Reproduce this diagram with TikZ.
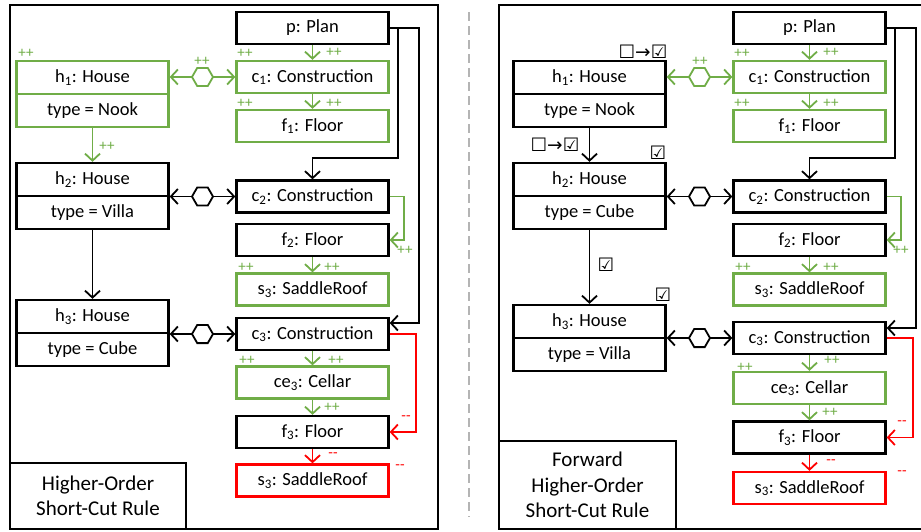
\documentclass[tikz,border=0pt]{standalone}
\usepackage{fontspec}
\setmainfont{Carlito}
\newfontfamily\chkfont{DejaVu Sans}
\usetikzlibrary{arrows.meta,shapes.geometric}
\definecolor{grn}{HTML}{70AD47}
\definecolor{rd}{HTML}{FF0000}
\definecolor{divgray}{HTML}{B4B4B4}
\newcommand\mainsz{\fontsize{18.5}{22}\selectfont}
\newcommand\labsz{\fontsize{21}{25.5}\selectfont}
\newcommand\tagsz{\fontsize{15}{16}\selectfont}
\newcommand\chksz{\fontsize{18.5}{20}\selectfont}
\begin{document}
\begin{tikzpicture}[x=1pt,y=-1pt,
  >={Straight Barb[length=7pt,width=15pt]},
  box/.style={draw, line width=2.3pt, minimum width=152pt, minimum height=32pt, inner sep=0pt, font=\mainsz},
  gbox/.style={box, draw=grn},
  rbox/.style={box, draw=rd},
  hbox/.style={box, minimum height=33pt},
  ghbox/.style={hbox, draw=grn},
  bline/.style={line width=1.8pt, draw=black},
  gline/.style={line width=1.8pt, draw=grn},
  rline/.style={line width=1.8pt, draw=rd},
  hex/.style={regular polygon, regular polygon sides=6, minimum size=21pt, inner sep=0pt, draw, fill=white, line width=1.8pt},
  ghex/.style={hex, draw=grn},
  gtag/.style={font=\tagsz, text=grn, inner sep=0pt},
  rtag/.style={font=\tagsz, text=rd, inner sep=0pt},
  chk/.style={font=\chksz\chkfont, inner sep=0pt},
  labbox/.style={draw, line width=2.3pt, inner sep=0pt, align=center, font=\labsz},
  frame/.style={line width=2.3pt}
]
\useasboundingbox (0,0) rectangle (921,531);

% ---------------- frames ----------------
\draw[frame] (10,5) rectangle (438,529);
\draw[frame] (499,5) rectangle (925,529);
\draw[divgray, line width=1.5pt, dash pattern=on 9pt off 5pt] (469,12) -- (469,517);

% ================= LEFT PANEL =================
\node[box]  (pL)   at (312.5,28)    {p: Plan};
\node[gbox] (c1L)  at (312.5,77)    {c\textsubscript{1}: Construction};
\node[gbox] (f1L)  at (312.5,126)   {f\textsubscript{1}: Floor};
\node[box]  (c2L)  at (312.5,196.5) {c\textsubscript{2}: Construction};
\node[box]  (f2L)  at (312.5,240)   {f\textsubscript{2}: Floor};
\node[gbox] (s3gL) at (312.5,289.5) {s\textsubscript{3}: SaddleRoof};
\node[box]  (c3L)  at (312.5,334)   {c\textsubscript{3}: Construction};
\node[gbox] (ce3L) at (312.5,382.5) {ce\textsubscript{3}: Cellar};
\node[box]  (f3L)  at (312.5,432)   {f\textsubscript{3}: Floor};
\node[rbox] (s3rL) at (312.5,480.5) {s\textsubscript{3}: SaddleRoof};

\node[ghbox] (h1tL) at (92.5,77.5)  {h\textsubscript{1}: House};
\node[ghbox] (h1bL) at (92.5,110.5) {type = Nook};
\node[hbox]  (h2tL) at (92.5,179.5) {h\textsubscript{2}: House};
\node[hbox]  (h2bL) at (92.5,212.5) {type = Villa};
\node[hbox]  (h3tL) at (92.5,316.5) {h\textsubscript{3}: House};
\node[hbox]  (h3bL) at (92.5,349.5) {type = Cube};

\coordinate (k1L) at (398,158);
\coordinate (k2L) at (419,323);
\coordinate (k3L) at (404,240);
\coordinate (k4L) at (416,432);

\draw[gline,->] (pL.south) -- (c1L.north);
\draw[gline,->] (c1L.south) -- (f1L.north);
\draw[gline,->] (h1bL.south) -- (h2tL.north);
\draw[bline,->] (h2bL.south) -- (h3tL.north);
\draw[gline,<->] (c1L.west) -- node[ghex] (x1L) {} (c1L.west -| h1tL.east);
\draw[bline,<->] (c2L.west) -- node[hex] (x2L) {} (c2L.west -| h2tL.east);
\draw[bline,<->] (c3L.west) -- node[hex] (x3L) {} (c3L.west -| h3tL.east);
\draw[bline,->] (pL.east) -| (k1L) -| (c2L.north);
\draw[bline,->] (pL.east) -| (k2L) -- (k2L -| c3L.east);
\draw[gline,->] (c2L.east) -| (k3L) -- (f2L.east);
\draw[gline,->] (f2L.south) -- (s3gL.north);
\draw[gline,->] (c3L.south) -- (ce3L.north);
\draw[gline,->] (ce3L.south) -- (f3L.north);
\draw[rline,->] (c3L.east) -| (k4L) -- (f3L.east);
\draw[rline,->] (f3L.south) -- (s3rL.north);

\node[gtag] (tL1)  at (26,53)   {++};
\node[gtag] (tL2)  at (202,61)  {++};
\node[gtag] (tL3)  at (245,53)  {++};
\node[gtag] (tL4)  at (334,52)  {++};
\node[gtag] (tL5)  at (245,103) {++};
\node[gtag] (tL6)  at (334,103) {++};
\node[gtag] (tL7)  at (107,146) {++};
\node[gtag] (tL8)  at (405,250) {++};
\node[gtag] (tL9)  at (246,267) {++};
\node[gtag] (tL10) at (332,267) {++};
\node[gtag] (tL11) at (247,360) {++};
\node[gtag] (tL12) at (336,360) {++};
\node[gtag] (tL13) at (332,407) {++};
\node[rtag] (tL14) at (406,418) {-\kern0pt-};
\node[rtag] (tL15) at (333,455) {-\kern0pt-};
\node[rtag] (tL16) at (400,467) {-\kern0pt-};

\node[labbox, minimum width=176pt, minimum height=66pt] (labL) at (98,496) {Higher-Order\\Short-Cut Rule};

% ================= RIGHT PANEL =================
\node[box]  (pR)   at (809.5,28)    {p: Plan};
\node[gbox] (c1R)  at (809.5,77)    {c\textsubscript{1}: Construction};
\node[gbox] (f1R)  at (809.5,126)   {f\textsubscript{1}: Floor};
\node[box]  (c2R)  at (809.5,196.5) {c\textsubscript{2}: Construction};
\node[box]  (f2R)  at (809.5,240)   {f\textsubscript{2}: Floor};
\node[gbox] (s3gR) at (809.5,289.5) {s\textsubscript{3}: SaddleRoof};
\node[box]  (c3R)  at (809.5,338)   {c\textsubscript{3}: Construction};
\node[gbox] (ce3R) at (809.5,388)   {ce\textsubscript{3}: Cellar};
\node[box]  (f3R)  at (809.5,437.5) {f\textsubscript{3}: Floor};
\node[rbox] (s3rR) at (809.5,488)   {s\textsubscript{3}: SaddleRoof};

\node[hbox] (h1tR) at (589.5,77.5)  {h\textsubscript{1}: House};
\node[hbox] (h1bR) at (589.5,110.5) {type = Nook};
\node[hbox] (h2tR) at (589.5,179.5) {h\textsubscript{2}: House};
\node[hbox] (h2bR) at (589.5,212.5) {type = Cube};
\node[hbox] (h3tR) at (589.5,321.5) {h\textsubscript{3}: House};
\node[hbox] (h3bR) at (589.5,354.5) {type = Villa};

\coordinate (k1R) at (895,158);
\coordinate (k2R) at (916,328);
\coordinate (k3R) at (901,240);
\coordinate (k4R) at (913,437.5);

\draw[gline,->] (pR.south) -- (c1R.north);
\draw[gline,->] (c1R.south) -- (f1R.north);
\draw[bline,->] (h1bR.south) -- (h2tR.north);
\draw[bline,->] (h2bR.south) -- (h3tR.north);
\draw[gline,<->] (c1R.west) -- node[ghex] (x1R) {} (c1R.west -| h1tR.east);
\draw[bline,<->] (c2R.west) -- node[hex] (x2R) {} (c2R.west -| h2tR.east);
\draw[bline,<->] (c3R.west) -- node[hex] (x3R) {} (c3R.west -| h3tR.east);
\draw[bline,->] (pR.east) -| (k1R) -| (c2R.north);
\draw[bline,->] (pR.east) -| (k2R) -- (k2R -| c3R.east);
\draw[gline,->] (c2R.east) -| (k3R) -- (f2R.east);
\draw[gline,->] (f2R.south) -- (s3gR.north);
\draw[gline,->] (c3R.south) -- (ce3R.north);
\draw[gline,->] (ce3R.south) -- (f3R.north);
\draw[rline,->] (c3R.east) -| (k4R) -- (f3R.east);
\draw[rline,->] (f3R.south) -- (s3rR.north);

\node[gtag] (tR1)  at (700,61)  {++};
\node[gtag] (tR2)  at (742,53)  {++};
\node[gtag] (tR3)  at (831,52)  {++};
\node[gtag] (tR4)  at (742,103) {++};
\node[gtag] (tR5)  at (831,103) {++};
\node[gtag] (tR6)  at (901,250) {++};
\node[gtag] (tR7)  at (743,267) {++};
\node[gtag] (tR8)  at (831,267) {++};
\node[gtag] (tR9)  at (745,367) {++};
\node[gtag] (tR10) at (832,360) {++};
\node[gtag] (tR11) at (830,412) {++};
\node[rtag] (tR12) at (902,423) {-\kern0pt-};
\node[rtag] (tR13) at (831,462) {-\kern0pt-};
\node[rtag] (tR14) at (902,473) {-\kern0pt-};

\node[chk] (b1) at (643,52)  {☐→☑};
\node[chk] (b2) at (555,145) {☐→☑};
\node[chk] (b3) at (658,153) {☑};
\node[chk] (b4) at (606,265) {☑};
\node[chk] (b5) at (663,295) {☑};

\node[labbox, minimum width=177pt, minimum height=88pt] (labR) at (587.5,485) {Forward\\Higher-Order\\Short-Cut Rule};
\end{tikzpicture}
\end{document}
